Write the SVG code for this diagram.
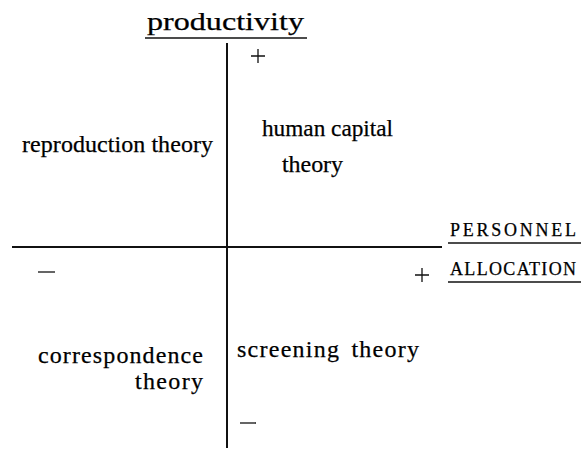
<svg xmlns="http://www.w3.org/2000/svg" width="585" height="450" viewBox="0 0 585 450">
<style>
.t{font-family:"Liberation Serif","DejaVu Serif",serif;fill:#000;stroke:#000;stroke-width:0.25;}
.l{font-size:24px;}
.c{font-size:18px;}
.ax{stroke:#111;stroke-width:2;fill:none;}
.ul{stroke:#111;stroke-width:1.6;fill:none;}
.sg{stroke:#111;stroke-width:1.3;fill:none;}
</style>
<rect width="585" height="450" fill="#fff"/>
<g id="connectors">
<line class="ax" x1="227" y1="43" x2="227" y2="448"/>
<line class="ax" x1="12" y1="247" x2="442" y2="247"/>
</g>
<g id="axis-y-label">
<text class="t" x="147" y="30" font-size="25" textLength="157" lengthAdjust="spacingAndGlyphs">productivity</text>
<line class="ul" x1="145" y1="38" x2="307" y2="38"/>
</g>
<g id="axis-x-label">
<text class="t c" x="450" y="236" textLength="126" lengthAdjust="spacing">PERSONNEL</text>
<line class="ul" x1="448" y1="243" x2="581" y2="243"/>
<text class="t c" x="450" y="275" textLength="126" lengthAdjust="spacing">ALLOCATION</text>
<line class="ul" x1="448" y1="282" x2="581" y2="282"/>
</g>
<g id="signs">
<path class="sg" d="M251 56 H265 M258 49 V63"/>
<line class="sg" x1="38" y1="272" x2="55" y2="272"/>
<path class="sg" d="M415 275 H429 M422 268 V282"/>
<line class="sg" x1="240" y1="423" x2="256" y2="423"/>
</g>
<g id="reproduction">
<text class="t l" x="22" y="152" textLength="191" lengthAdjust="spacing">reproduction theory</text>
</g>
<g id="human-capital">
<text class="t l" x="262" y="136" textLength="131" lengthAdjust="spacingAndGlyphs">human capital</text>
<text class="t l" x="282" y="172" textLength="61" lengthAdjust="spacing">theory</text>
</g>
<g id="correspondence">
<text class="t l" x="38" y="363" textLength="165" lengthAdjust="spacing">correspondence</text>
<text class="t l" x="135" y="389" textLength="68" lengthAdjust="spacing">theory</text>
</g>
<g id="screening">
<text class="t l" x="237" y="357" textLength="182" lengthAdjust="spacing" word-spacing="4">screening theory</text>
</g>
</svg>
